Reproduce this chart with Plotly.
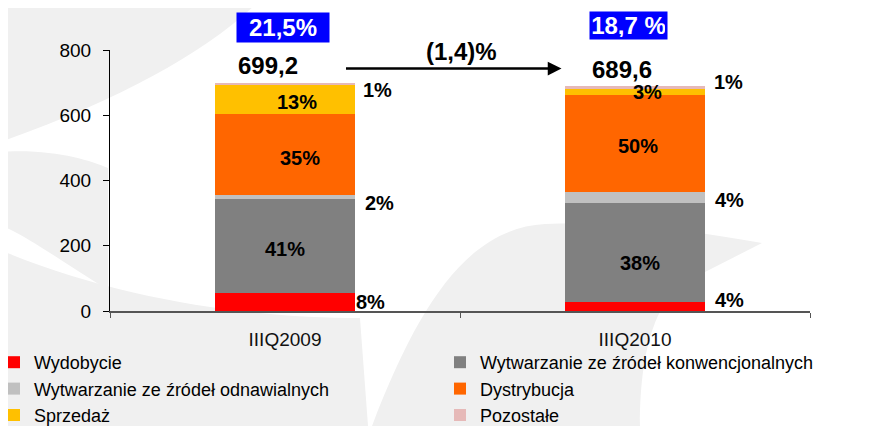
import plotly.graph_objects as go

# ---------------- data ----------------
categories = ["IIIQ2009", "IIIQ2010"]
series_names = [
    "Wydobycie",
    "Wytwarzanie ze źródeł konwencjonalnych",
    "Wytwarzanie ze źródeł odnawialnych",
    "Dystrybucja",
    "Sprzedaż",
    "Pozostałe",
]
wydobycie = [55.9, 27.6]
konwencjonalne = [287.0, 303.0]
odnawialne = [13.0, 34.0]
dystrybucja = [248.0, 297.0]
sprzedaz = [89.0, 18.0]
pozostale = [6.3, 10.0]
totals_text = ["699,2", "689,6"]
margin_text = ["21,5%", "18,7 %"]
change_text = "(1,4)%"
# share labels per series (inside / outside bars)
share_labels = [
    ["8%", "4%"],
    ["41%", "38%"],
    ["2%", "4%"],
    ["35%", "50%"],
    ["13%", "3%"],
    ["1%", "1%"],
]
y_ticks = [0, 200, 400, 600, 800]

colors = ["#FF0000", "#808080", "#C0C0C0", "#FF6600", "#FFC000", "#E6B9B8"]
values = [wydobycie, konwencjonalne, odnawialne, dystrybucja, sprzedaz, pozostale]
legend_of = ["legend", "legend2", "legend", "legend2", "legend", "legend2"]

FONT = "Liberation Sans, Arial, sans-serif"

# page has an 8px body margin: figure is sized to fit the 872x426 window
W, H = 864, 418
L, T = 102, 42          # plot area origin inside the figure
PW, PH = 700, 261

fig = go.Figure()
for name, vals, col, lg in zip(series_names, values, colors, legend_of):
    fig.add_trace(go.Bar(
        x=categories, y=vals, name=name, width=0.4, legend=lg,
        marker=dict(color=col, line=dict(width=0)),
    ))

# label placement: (x shift px, y shift px) per series per bar
label_style = [
    [(85, 0), (94, 7)],
    [(0, -3), (5, -10)],
    [(94, -6), (94, -2)],
    [(15, -4), (3, -2)],
    [(12, -3), (12, 0)],
    [(92, -6), (93, 6)],
]

annotations = []
for i in range(2):
    base = 0.0
    for s in range(len(values)):
        v = values[s][i]
        mid = base + v / 2
        base += v
        dx, dy = label_style[s][i]
        annotations.append(dict(
            x=i, y=mid, xref="x", yref="y", text="<b>%s</b>" % share_labels[s][i],
            showarrow=False, xshift=dx, yshift=dy,
            font=dict(size=20, color="black", family=FONT),
        ))
    total = base
    # total value above bar
    annotations.append(dict(
        x=i, y=total, xref="x", yref="y", text="<b>%s</b>" % totals_text[i],
        showarrow=False, xshift=-17 if i == 0 else -13, yshift=17,
        font=dict(size=24, color="black", family=FONT),
    ))
    # blue margin box
    annotations.append(dict(
        x=i, y=1.086 if i == 0 else 1.094, xref="x", yref="paper", yanchor="middle",
        text="<b>%s</b>" % margin_text[i],
        showarrow=False, xshift=-2 if i == 0 else -7, bgcolor="#0000FF",
        width=88 if i == 0 else 73, height=25 if i == 0 else 23, borderpad=2,
        font=dict(size=24, color="white", family=FONT),
    ))

# arrow between totals
annotations.append(dict(
    x=0.79, y=743, ax=0.17, ay=743, xref="x", yref="y", axref="x", ayref="y",
    text="", showarrow=True, arrowhead=2, arrowsize=1.1, arrowwidth=2.5,
    arrowcolor="black",
))
annotations.append(dict(
    x=0.5, y=800, xref="x", yref="y", text="<b>%s</b>" % change_text,
    showarrow=False, xshift=1, yshift=-1,
    font=dict(size=24, color="black", family=FONT),
))

# faint watermark swooshes (decorative), window pixel coords -> paper
def P(x, y):
    return "%.4f,%.4f" % ((x - 110) / float(PW), (311 - y) / float(PH))

def path(cmds):
    out = []
    for c in cmds:
        if isinstance(c, str):
            out.append(c)
        else:
            out.append(P(*c))
    return " ".join(out)

wm = "#F0F0F0"
shapes = [
    dict(type="path", xref="paper", yref="paper", layer="below", line=dict(width=0), fillcolor=wm,
         path=path(["M", (372, 426), "C", (420, 300), (470, 228), (545, 224),
                    "C", (620, 220), (700, 232), (762, 243), "L", (705, 272),
                    "C", (660, 285), (640, 340), (640, 426), "Z"])),
    dict(type="path", xref="paper", yref="paper", layer="below", line=dict(width=0), fillcolor=wm,
         path=path(["M", (0, 250), "C", (120, 300), (250, 318), (360, 318),
                    "L", (368, 426), "L", (0, 426), "Z"])),
    dict(type="path", xref="paper", yref="paper", layer="below", line=dict(width=0), fillcolor=wm,
         path=path(["M", (0, 0), "L", (260, 0), "C", (210, 50), (120, 100), (0, 142), "Z"])),
    dict(type="path", xref="paper", yref="paper", layer="below", line=dict(width=0), fillcolor=wm,
         path=path(["M", (0, 152), "C", (50, 148), (90, 160), (108, 168), "L", (108, 290),
                    "C", (60, 260), (25, 235), (0, 225), "Z"])),
]

legend_common = dict(
    orientation="v", xref="paper", yref="container",
    xanchor="left", yanchor="top", traceorder="normal",
    font=dict(size=18, family=FONT, color="black"),
    bgcolor="rgba(0,0,0,0)", itemclick=False, itemdoubleclick=False,
    tracegroupgap=0, y=1 - 336 / float(H),
)

fig.update_layout(
    width=W, height=H,
    margin=dict(l=L, r=W - L - PW, t=T, b=H - T - PH, autoexpand=False),
    barmode="stack",
    paper_bgcolor="white", plot_bgcolor="rgba(0,0,0,0)",
    font=dict(family=FONT, color="black"),
    showlegend=True,
    legend=dict(legend_common, x=(-14 - L) / float(PW)),
    legend2=dict(legend_common, x=(432 - L) / float(PW)),
    annotations=annotations,
    shapes=shapes,
)
fig.update_xaxes(
    type="category", range=[-0.5, 1.5], showline=True, linecolor="#555555", linewidth=1.5,
    ticks="outside", tickson="boundaries", ticklen=5, tickcolor="#555555",
    showgrid=False, zeroline=False, ticklabelstandoff=10,
    tickfont=dict(size=19, family=FONT, color="#111111"),
)
fig.update_yaxes(
    range=[0, 800], tickvals=y_ticks, showline=True, linecolor="black", linewidth=1.2,
    ticks="outside", ticklen=6, tickcolor="black", showgrid=False, zeroline=False,
    ticklabelstandoff=8,
    tickfont=dict(size=19, family=FONT, color="black"),
)

fig.write_html("out.html")
